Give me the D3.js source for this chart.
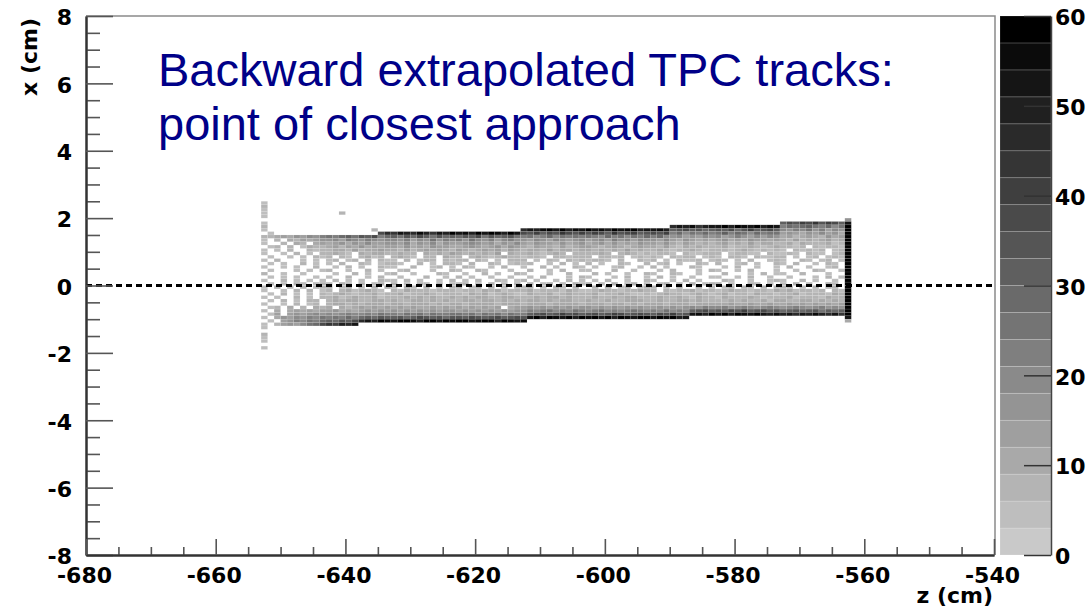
<!DOCTYPE html>
<html>
<head>
<meta charset="utf-8">
<script src="https://cdn.jsdelivr.net/npm/d3@7"></script>
<style>
  body { margin: 0; background: #fff; }
  svg { display: block; }
  .axis text, .axis-title { font-family: "DejaVu Sans", sans-serif; font-weight: bold; font-size: 22px; fill: #000; }
  .title { font-family: "Liberation Sans", Arial, sans-serif; font-size: 47px; fill: #000088; }
</style>
</head>
<body>
<svg width="1090" height="611"></svg>
<script>
const svg = d3.select('svg');

// histogram binning: z bins 1 cm wide from -653, x bins 0.1 cm tall from +2.5 downwards
const zFirst = -653;
const zBin = 1;
const xFirstTop = 2.5;
const xBin = 0.1;

// one string per x bin (top to bottom), one char per z bin.
// '.' = empty, '1'..'9','a'..'k' = entries, in steps of 3 (one colour band each)
const rows = [
  "1......... .......... .......... .......... .......... .......... .......... .......... .......... .",
  "2......... .......... .......... .......... .......... .......... .......... .......... .......... .",
  "1......... .......... .......... .......... .......... .......... .......... .......... .......... .",
  "1......... ..2....... .......... .......... .......... .......... .......... .......... .......... .",
  "1......... .......... .......... .......... .......... .......... .......... .......... .......... .",
  ".......... .......... .......... .......... .......... .......... .......... .......... .......... 5",
  "1......... .......... .......... .......... .......... .......... .......... .......... acbdcebdca h",
  "2......... .......... .......... .......... .......... .......... ...fhgiegh hjgkihjgih 7989a87968 k",
  "1......... .......2.. .......... .......... fhgikhjgih jhigkhijgh higabcab9a bac9bdabca 6576857465 k",
  ".1........ ........cf ehgfigehgj higjhkigjh cbdacbecbd bdcaebcdab cbd7968797 8a79869788 4543546453 k",
  "2234354657 879a8bac79 a8b9ca8b9a 9bac8b9ab8 7867968787 8769786879 7965645465 6457546465 3423432534 k",
  "1.2.324345 5647657656 6574658576 7586574675 5465465456 4564756465 5464354343 4534354434 3242323423 k",
  "1..2.32.34 3453546445 5463546354 4565453546 4354435345 3453534354 4353243232 3423242332 2313222312 k",
  ".12.2.1322 3424353434 4353435443 3454345354 3243324234 4323432343 3242132322 2312232123 2212.21221 k",
  "1.1.2..212 2332423343 3242343432 4323434243 2332423323 3232324232 2321223212 2212321212 1.21212.12 k",
  "1..1.2.1.2 2321.32332 2322.32324 3232324.32 2321232.22 2232.23212 1221.21122 2.12211.21 121.211.12 k",
  ".1..1.1.21 2.21.2312. 2321.22.32 2.23212322 1221.22122 2.2212.121 21.2122.12 1.221.2112 2.1.12.121 k",
  "1.2...1.1. 12.12.2.21 1.2.122.21 22.21.1.22 2.1.21.212 1221.2..21 2.1.2112.1 21.1.2..12 1..21.12.1 k",
  ".1.1..2.1. 1.2..21.12 21..2.1.22 1.2..21.12 12..1.2.1. 2.1..21..2 .12.1..21. 2..12.1..2 1.2..1.21. k",
  "1..1.1..2. .1.2.1..21 1..2..12.1 .21..1.2.. 1..2.1..21 .1..12..1. 2.1...21.. .1.2..1..1 .2..1..12. k",
  ".1...1.1.1 2..1..2.1. .12...1..2 1..21...1. .2..1.2..1 1...2..1.. .1.2...1.2 1..1.2...1 ..1..21..1 k",
  "2..1..1... .1..2.1..1 2..1...21. .1..2.1..2 1...1..2.. .2.1..1..2 1..21..1.. .2...1.2.1 1..2...1.. k",
  ".1.1.1..1. 1..2..1.2. .1...2..1. 2.1..1..1. .1.2...1.2 1...1.2..1 .2.1..1..1 1..1.2..1. .1...1.2.1 k",
  "1..2.1.1.1 .2.1.1..21 1.2.1..1.2 .1.2..21.1 2.1..1.2.1 .1.2..1..2 1..1.2.1.. .21..1..12 1..2.1..1. k",
  ".1.1.21.12 1.21.2.12. 2.1.21.2.1 12.1.2.1.2 .2.12.1.21 2.1.2.12.1 .12.1.2.12 2.1..21.1. 1.2.1..21. k",
  "1.2.1.2.12 2.12.1.2.2 1.21.2.1.2 2.12.2.1.1 12.1.21.2. .2.2.12.12 2.1.2..2.1 .12.21.2.1 21.1.2.12. k",
  "1..1.2.2.1 2.2312321. 2132221222 1221323122 2312221321 1232212232 2.21223122 1232212213 2312212.21 k",
  ".1.2.1.1.2 1232122312 2312232122 2132312321 1322312322 2312232112 1232212321 2312213221 2231222132 k",
  "1.1..2.1.2 2312322312 2232323223 2323322332 2232332322 2322323322 2322321322 1322232122 2312221322 k",
  ".1.2.1.22. 2323322332 3223323232 2332332323 2332323322 3223223332 2322332322 2232322313 3223323232 k",
  "1..1.2.12. 2332323332 3323332323 3233332333 2333233332 3332332323 3323332333 3343343343 3434343434 k",
  ".12.3.2.32 3.32343434 3434334343 4343434.34 4545454545 5454545454 4545456576 6756765676 5676567565 k",
  "1.3.343434 4534345454 5454545455 4545454545 5767867687 6786767876 768676abca bacbdabcab 9ab9ab8a9a k",
  ".14.454565 6567667687 7687868778 8786878687 7abcabdbca bcabdcabcb acbdabhigj hjgkihjhgi ghfhgigfhe k",
  "1.35465768 787979a9ba ab9acbab9b bacbabcabc bhjgkihjgk ijhkgjihkj hjikgh.... .......... .......... h",
  ".1.4576879 a9bacfhgji hkjigkjhki jkhikjgkih i......... .......... .......... .......... .......... 3",
  "1.2454689c edgfh..... .......... .......... .......... .......... .......... .......... .......... .",
  "1......... .......... .......... .......... .......... .......... .......... .......... .......... .",
  ".......... .......... .......... .......... .......... .......... .......... .......... .......... .",
  "2......... .......... .......... .......... .......... .......... .......... .......... .......... .",
  "1......... .......... .......... .......... .......... .......... .......... .......... .......... .",
  "1......... .......... .......... .......... .......... .......... .......... .......... .......... .",
  ".......... .......... .......... .......... .......... .......... .......... .......... .......... .",
  "1......... .......... .......... .......... .......... .......... .......... .......... .......... ."
];

const zTicks = [-680, -660, -640, -620, -600, -580, -560, -540];
const xTicks = [-8, -6, -4, -2, 0, 2, 4, 6, 8];
const countTicks = [0, 10, 20, 30, 40, 50, 60];
const countMax = 60;
const nBands = 20;

const titleLines = ['Backward extrapolated TPC tracks:', 'point of closest approach'];

// frame
const frame = { l: 86, r: 994, t: 16, b: 555 };

const xScale = d3.scaleLinear().domain([-680, -540]).range([frame.l, frame.r]);
const yScale = d3.scaleLinear().domain([-8, 8]).range([frame.b, frame.t]);
const cScale = d3.scaleLinear().domain([0, countMax]).range([frame.b, frame.t]);

const bandColors = d3.range(nBands).map(i => d3.interpolateRgb('#c9c9c9', '#000000')(i / (nBands - 1)));
const colorScale = d3.scaleQuantize().domain([0, countMax]).range(bandColors);

// ROOT style labels use a plain hyphen
const plain = d => String(d);

// flatten the grid into cells
const cells = [];
rows.forEach(function (row, r) {
    const chars = row.replace(/ /g, '');
    chars.split('').forEach(function (ch, c) {
        if (ch === '.') return;
        const level = parseInt(ch, 36);
        cells.push({
            z: zFirst + c * zBin,
            x: xFirstTop - r * xBin,
            count: Math.min(level * 3 + 1.5, countMax - 0.5)
        });
    });
});

svg.append('g')
    .attr('class', 'cells')
    .selectAll('rect')
    .data(cells)
    .enter()
    .append('rect')
    .attr('x', d => xScale(d.z))
    .attr('y', d => yScale(d.x))
    .attr('width', d => xScale(d.z + zBin) - xScale(d.z))
    .attr('height', d => yScale(d.x - xBin) - yScale(d.x))
    .attr('fill', d => colorScale(d.count))
    .attr('stroke', 'rgba(255,255,255,0.18)')
    .attr('stroke-width', 0.5);

// dashed line at x = 0
svg.append('line')
    .attr('x1', xScale(-680))
    .attr('x2', xScale(-540))
    .attr('y1', yScale(0))
    .attr('y2', yScale(0))
    .attr('stroke', '#000')
    .attr('stroke-width', 3)
    .attr('stroke-dasharray', '6,4');

// frame top / right
svg.append('path')
    .attr('d', `M${frame.l},${frame.t}H${frame.r + 1}V${frame.b}`)
    .attr('fill', 'none')
    .attr('stroke', '#8a8a8a')
    .attr('stroke-width', 1.5);

// axes
const xMinor = d3.range(-8, 8.01, 0.5).filter(v => v % 2 !== 0);
const zMinor = d3.range(-680, -539, 5).filter(v => v % 20 !== 0);

svg.append('g')
    .attr('class', 'axis y-minor')
    .attr('transform', `translate(${frame.l},0)`)
    .call(d3.axisLeft(yScale).tickValues(xMinor).tickSizeInner(-14).tickSizeOuter(0).tickFormat(''));

const yAxisG = svg.append('g')
    .attr('class', 'axis y-axis')
    .attr('transform', `translate(${frame.l},0)`)
    .call(d3.axisLeft(yScale).tickValues(xTicks).tickSizeInner(-27).tickSizeOuter(0).tickPadding(14).tickFormat(plain));
yAxisG.selectAll('text').attr('dy', '0.4em');

svg.append('g')
    .attr('class', 'axis z-minor')
    .attr('transform', `translate(0,${frame.b})`)
    .call(d3.axisBottom(xScale).tickValues(zMinor).tickSizeInner(-8).tickSizeOuter(0).tickFormat(''));

const zAxisG = svg.append('g')
    .attr('class', 'axis z-axis')
    .attr('transform', `translate(0,${frame.b})`)
    .call(d3.axisBottom(xScale).tickValues(zTicks).tickSizeInner(-16).tickSizeOuter(0).tickPadding(12).tickFormat(plain));
zAxisG.selectAll('text').attr('dx', '-2');

svg.selectAll('.axis path.domain').attr('stroke', '#333').attr('stroke-width', 2);
svg.selectAll('.axis .tick line').attr('stroke', '#555').attr('stroke-width', 1.6);

// axis titles
svg.append('text')
    .attr('class', 'axis-title')
    .attr('transform', 'translate(37,18) rotate(-90)')
    .attr('text-anchor', 'end')
    .text('x (cm)');

svg.append('text')
    .attr('class', 'axis-title')
    .attr('x', 993)
    .attr('y', 603)
    .attr('text-anchor', 'end')
    .text('z (cm)');

// colour bar
const bar = { l: 1000, r: 1051 };
svg.append('g')
    .attr('class', 'palette')
    .selectAll('rect')
    .data(bandColors)
    .enter()
    .append('rect')
    .attr('x', bar.l)
    .attr('width', bar.r - bar.l)
    .attr('y', (d, i) => cScale((i + 1) * countMax / nBands))
    .attr('height', (d, i) => cScale(i * countMax / nBands) - cScale((i + 1) * countMax / nBands))
    .attr('fill', d => d)
    .attr('stroke', 'rgba(255,255,255,0.2)')
    .attr('stroke-width', 0.8);

const cAxisG = svg.append('g')
    .attr('class', 'axis c-axis')
    .attr('transform', `translate(${bar.r},0)`)
    .call(d3.axisRight(cScale).tickValues(countTicks).tickSizeInner(-27).tickSizeOuter(0).tickPadding(4).tickFormat(plain));
cAxisG.selectAll('text').attr('dy', '0.4em');
cAxisG.select('path.domain').attr('stroke', '#444').attr('stroke-width', 1.5);
cAxisG.selectAll('.tick line').attr('stroke', '#333').attr('stroke-width', 1.5);

// title
svg.append('g')
    .selectAll('text')
    .data(titleLines)
    .enter()
    .append('text')
    .attr('class', 'title')
    .attr('x', 158)
    .attr('y', (d, i) => 86 + i * 54)
    .text(d => d);
</script>
</body>
</html>
